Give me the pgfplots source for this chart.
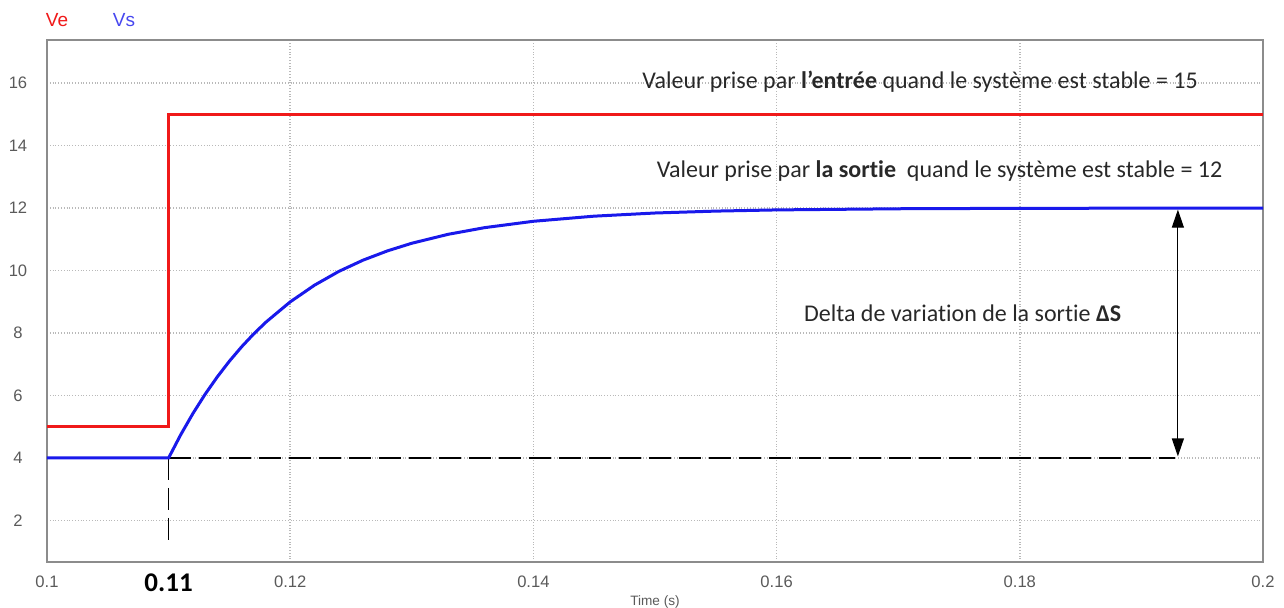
\documentclass[border=0pt]{standalone}
\usepackage{fontspec}
\setmainfont{Carlito}[Ligatures=NoCommon]
\newfontfamily\arial{Liberation Sans}
\usepackage{pgfplots}
\pgfplotsset{compat=1.18}
\usetikzlibrary{arrows.meta}
\definecolor{vered}{RGB}{240,25,25}
\definecolor{vsblue}{RGB}{25,25,235}
\definecolor{txt}{RGB}{40,40,40}
\definecolor{tickc}{RGB}{90,90,90}
\begin{document}
\begin{tikzpicture}
\useasboundingbox (-23.5pt,-22.5pt) rectangle (618.5pt,281pt);
\begin{axis}[at={(0,0)}, anchor=south west, scale only axis,
  width=608pt, height=261pt,
  clip mode=individual,
  xmin=0.1, xmax=0.2, ymin=0.67, ymax=17.38,
  xtick={0.1,0.12,0.14,0.16,0.18,0.2},
  xticklabels={0.1,0.12,0.14,0.16,0.18,0.2},
  ytick={2,4,6,8,10,12,14,16},
  /pgf/number format/assume math mode=true,
  grid=major,
  major grid style={densely dotted, gray!55, line width=0.8pt},
  axis line style={gray!90, line width=1pt},
  tick style={draw=none},
  ticklabel style={font=\arial\fontsize{8.3}{10}\selectfont, text=tickc},
  xticklabel style={anchor=center, yshift=-10pt},
  yticklabel style={anchor=center, xshift=-14.5pt},
  xlabel={Time (s)},
  xlabel style={at={(axis description cs:0.5,0)}, anchor=center, yshift=-20pt,
    font=\arial\fontsize{6.8}{8}\selectfont, text=tickc},
]
\addplot[black, line width=0.8pt, dash pattern=on 11pt off 4pt] coordinates {(0.11,4) (0.1928,4)};
\addplot[black, line width=0.8pt, dash pattern=on 11pt off 4pt] coordinates {(0.11,4) (0.11,1.15)};
\addplot[vered, line width=1.5pt] coordinates {(0.1,5) (0.11,5) (0.11,15) (0.2,15)};
\addplot[vsblue, line width=1.5pt] coordinates {
(0.1,4) (0.11,4) (0.111,4.747) (0.112,5.424) (0.113,6.038) (0.114,6.594)
(0.115,7.099) (0.116,7.557) (0.117,7.972) (0.118,8.347) (0.120,8.997)
(0.122,9.532) (0.124,9.973) (0.126,10.334) (0.128,10.630) (0.130,10.874)
(0.133,11.161) (0.136,11.374) (0.140,11.577) (0.145,11.741) (0.150,11.842)
(0.155,11.903) (0.160,11.941) (0.170,11.978) (0.180,11.992) (0.2,12.0)};
\addplot[black, line width=0.6pt, {Triangle[length=9pt,width=6pt]}-{Triangle[length=9pt,width=6pt]}] coordinates {(0.1930,4.05) (0.1930,11.95)};
\node[font=\fontsize{12}{14}\selectfont, text=txt] at (axis cs:0.1718,16.03) {Valeur prise par \textbf{l’entrée} quand le système est stable = 15};
\node[font=\fontsize{12}{14}\selectfont, text=txt] at (axis cs:0.1734,13.2) {Valeur prise par \textbf{la sortie}\ \ quand le système est stable = 12};
\node[font=\fontsize{12}{14}\selectfont, text=txt] at (axis cs:0.1753,8.64) {Delta de variation de la sortie \textbf{ΔS}};
\node[font=\bfseries\fontsize{13.5}{15}\selectfont, text=black] at (axis cs:0.11,0.67) [yshift=-10.5pt] {0.11};
\node[font=\arial\fontsize{9.5}{11}\selectfont, text=vered] at (rel axis cs:0,1) [xshift=5pt, yshift=10pt] {Ve};
\node[font=\arial\fontsize{9.5}{11}\selectfont, text=vsblue!80!white] at (rel axis cs:0,1) [xshift=38.5pt, yshift=10pt] {Vs};
\end{axis}
\end{tikzpicture}
\end{document}
